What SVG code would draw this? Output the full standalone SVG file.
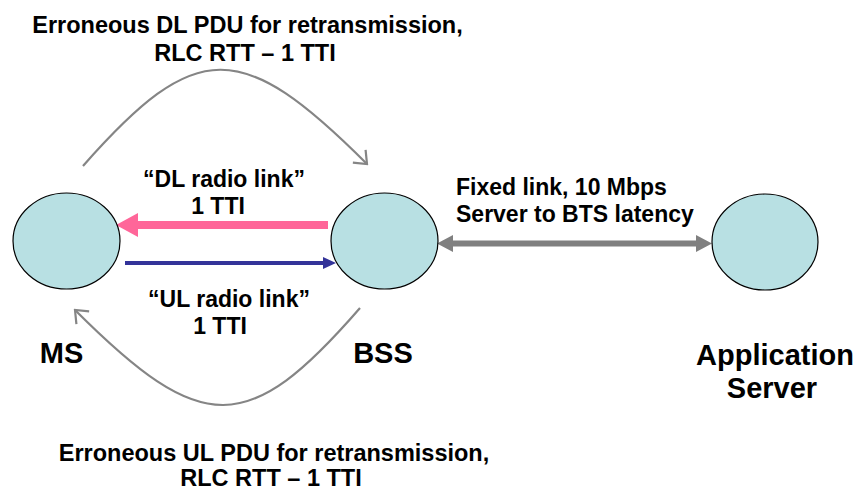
<svg xmlns="http://www.w3.org/2000/svg" width="858" height="491" viewBox="0 0 858 491">
<defs>
<style>
.node{fill:#b8e0e3;stroke:#000;stroke-width:1.2}
.t{font-family:"Liberation Sans",Arial,sans-serif;font-weight:bold;fill:#000}
.s{font-size:23px}
.b{font-size:29px}
.arc{fill:none;stroke:#858585;stroke-width:2.2}
</style>
<marker id="open" viewBox="-14 -10 16 20" markerWidth="16" markerHeight="20" refX="0" refY="0" orient="auto" markerUnits="userSpaceOnUse">
<path d="M-11,-9 L0,0 L-11,9" fill="none" stroke="#858585" stroke-width="2.2"/>
</marker>
</defs>
<rect width="858" height="491" fill="#fff"/>
<g id="connectors">
<path class="arc" d="M83,166 C196,38 241,38 367,164" marker-end="url(#open)"/>
<path class="arc" d="M360,308 C248,437 202,437 75,310" marker-end="url(#open)"/>
<polygon fill="#ff6699" points="328,221 138,221 138,213 116,225 138,237 138,229 328,229"/>
<polygon fill="#333399" points="125,261 323,261 323,257 336,263 323,269 323,265 125,265"/>
<polygon fill="#808080" points="453,240.5 453,235 437,243.5 453,252 453,246.5 696,246.5 696,252 712,243.5 696,235 696,240.5"/>
</g>
<g id="MS">
<ellipse class="node" cx="66.5" cy="241" rx="53.5" ry="48"/>
<text class="t b" x="61.5" y="363" text-anchor="middle">MS</text>
</g>
<g id="BSS">
<ellipse class="node" cx="384.5" cy="241" rx="53.5" ry="48"/>
<text class="t b" x="383" y="363" text-anchor="middle">BSS</text>
</g>
<g id="AppServer">
<ellipse class="node" cx="765" cy="242" rx="53" ry="48"/>
<text class="t b" x="775" y="365" text-anchor="middle">Application</text>
<text class="t b" x="772" y="398" text-anchor="middle">Server</text>
</g>
<g id="labels">
<text class="t" style="font-size:23.5px" x="247.5" y="33" text-anchor="middle">Erroneous DL PDU for retransmission,</text>
<text class="t" style="font-size:23.5px" x="245" y="61" text-anchor="middle">RLC RTT – 1 TTI</text>
<text class="t" style="font-size:23.5px" x="274" y="461" text-anchor="middle">Erroneous UL PDU for retransmission,</text>
<text class="t" style="font-size:23.5px" x="271" y="486" text-anchor="middle">RLC RTT – 1 TTI</text>
<text class="t s" x="224" y="187" text-anchor="middle">“DL radio link”</text>
<text class="t s" x="218" y="214" text-anchor="middle">1 TTI</text>
<text class="t s" x="229" y="307" text-anchor="middle">“UL radio link”</text>
<text class="t s" x="220" y="334" text-anchor="middle">1 TTI</text>
<text class="t s" x="456" y="195">Fixed link, 10 Mbps</text>
<text class="t s" x="456" y="222">Server to BTS latency</text>
</g>
</svg>
